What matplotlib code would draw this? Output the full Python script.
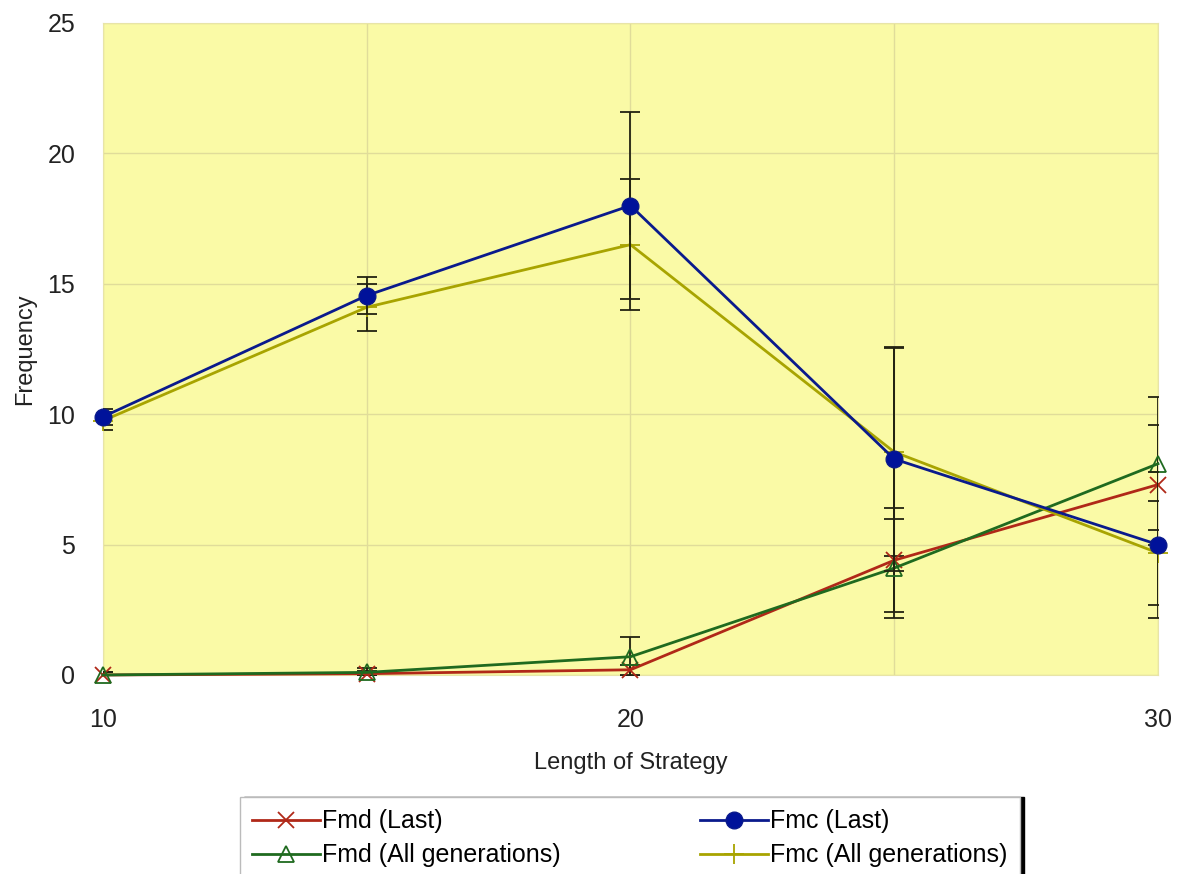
import matplotlib.pyplot as plt
from matplotlib.ticker import FixedLocator

plt.rcParams['font.family'] = ['Liberation Sans', 'DejaVu Sans']

lengths = [10, 15, 20, 25, 30]

fmd_last = [0.0, 0.05, 0.2, 4.4, 7.3]
fmd_last_err = [0.1, 0.1, 0.2, 2.0, 2.3]
fmc_last = [9.9, 14.55, 18.0, 8.28, 5.0]
fmc_last_err = [0.3, 0.7, 3.6, 4.3, 2.8]
fmd_all = [0.0, 0.1, 0.7, 4.1, 8.1]
fmd_all_err = [0.1, 0.15, 0.75, 1.9, 2.55]
fmc_all = [9.75, 14.1, 16.5, 8.55, 4.68]
fmc_all_err = [0.35, 0.9, 2.5, 4.0, 2.0]

fig = plt.figure(figsize=(11.85, 8.74), dpi=100)
ax = fig.add_axes([0.0869, 0.2277, 0.8903, 0.746])
ax.set_facecolor('#fafaa6')

ekw = dict(ecolor='#222211', elinewidth=1.3, capsize=7, capthick=1.3)

e1 = ax.errorbar(lengths, fmd_last, yerr=fmd_last_err, color='#b02818', marker='x',
                 markersize=12, mew=1.3, lw=2, zorder=3, **ekw)
e2 = ax.errorbar(lengths, fmc_last, yerr=fmc_last_err, color='#0a1a8c', marker='o',
                 markersize=12, markeredgecolor='#0a1a8c', mfc='#00129a', lw=2,
                 zorder=4, **ekw)
e3 = ax.errorbar(lengths, fmd_all, yerr=fmd_all_err, color='#1f6a1f', marker='^',
                 markersize=12, mfc='none', mew=1.3, lw=2, zorder=3, **ekw)
e4 = ax.errorbar(lengths, fmc_all, yerr=fmc_all_err, color='#a8a400', marker='+',
                 markersize=14, mew=1.3, lw=2, zorder=3, **ekw)
for e in (e1, e2, e3, e4):
    e[0].set_clip_on(False)

ax.set_xlim(10, 30)
ax.set_ylim(0, 25)
ax.set_xticks([10, 20, 30])
ax.xaxis.set_minor_locator(FixedLocator([15, 25]))
ax.set_yticks([0, 5, 10, 15, 20, 25])
ax.grid(True, which='both', color='#e0dc9a', lw=1)
ax.set_axisbelow(True)
ax.tick_params(axis='both', which='both', length=0, labelsize=18, colors='#222222')
ax.tick_params(axis='x', pad=24)
ax.tick_params(axis='y', pad=20)
for s in ax.spines.values():
    s.set_color('#e8e4a8')

ax.set_xlabel('Length of Strategy', fontsize=17, labelpad=14, color='#222222')
ax.set_ylabel('Frequency', fontsize=17, labelpad=8, color='#222222')

handles = [e1[0], e3[0], e2[0], e4[0]]
labels = ['Fmd (Last)', 'Fmd (All generations)', 'Fmc (Last)', 'Fmc (All generations)']
leg = ax.legend(handles, labels, loc='upper left',
                bbox_to_anchor=((240 - 103) / 1055, -0.197, 780 / 1055, 0.01),
                mode='expand', ncol=2, fontsize=18, frameon=True, fancybox=False,
                edgecolor='#bbbbbb', handlelength=2.7, handletextpad=0.1,
                labelspacing=0.4, borderpad=0.5, borderaxespad=0,
                shadow={'color': 'black', 'alpha': 1, 'ox': 3, 'oy': 0})
leg.get_frame().set_linewidth(1)

fig.savefig('out.png', dpi=100)
